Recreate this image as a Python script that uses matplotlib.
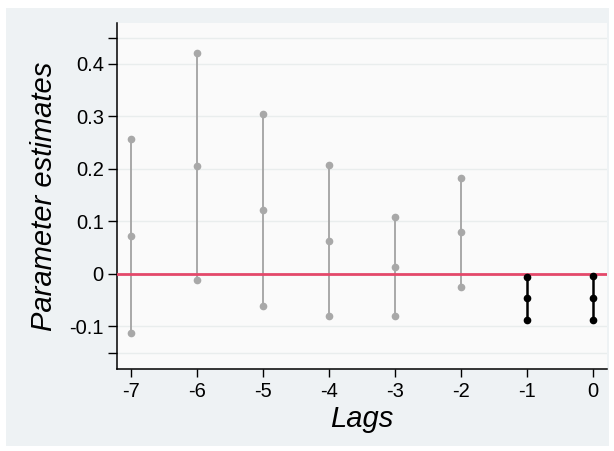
import matplotlib
matplotlib.use("Agg")
import matplotlib.pyplot as plt
from matplotlib.patches import Rectangle

lags = [-7, -6, -5, -4, -3, -2, -1, 0]
estimates = [0.073, 0.205, 0.121, 0.063, 0.013, 0.079, -0.045, -0.045]
upper = [0.258, 0.420, 0.304, 0.207, 0.108, 0.183, -0.005, -0.004]
lower = [-0.113, -0.012, -0.061, -0.081, -0.080, -0.025, -0.087, -0.087]
significant = [False, False, False, False, False, False, True, True]

ytick_vals = [-0.15, -0.1, 0, 0.1, 0.2, 0.3, 0.4, 0.45]
ytick_labels = ["", "-0.1", "0", "0.1", "0.2", "0.3", "0.4", ""]
xtick_labels = ["-7", "-6", "-5", "-4", "-3", "-2", "-1", "0"]

plt.rcParams['font.family'] = ['Liberation Sans', 'DejaVu Sans']

fig = plt.figure(figsize=(6.14, 4.51), dpi=100)
fig.patch.set_facecolor('white')
fig.patches.append(Rectangle((6/614, 5/451), 603/614, 438/451,
                             transform=fig.transFigure, facecolor='#eef2f4',
                             edgecolor='none', zorder=-10))

ax = fig.add_axes([117/614, 1 - 369/451, 490/614, (369 - 23)/451])
ax.set_zorder(1)
ax.set_facecolor('#fafafa')

for x, e, u, l, s in zip(lags, estimates, upper, lower, significant):
    if s:
        ax.plot([x, x], [l, u], color='black', lw=1.8, zorder=4)
        ax.plot([x, x, x], [l, e, u], 'o', color='black', ms=4.5, zorder=5)
    else:
        ax.plot([x, x], [l, u], color='#a8a8a8', lw=1.4, zorder=2)
        ax.plot([x, x, x], [l, e, u], 'o', color='#a8a8a8', ms=4.5, zorder=2.5)

ax.axhline(0, color='#e4486a', lw=2.0, zorder=3)

ax.set_xlim(-7.21, 0.21)
ax.set_ylim(-0.181, 0.478)
ax.set_xticks(lags)
ax.set_xticklabels(xtick_labels)
ax.set_yticks(ytick_vals)
ax.set_yticklabels(ytick_labels)
ax.yaxis.grid(True, color='#e9eded', lw=1.0, zorder=0)
ax.set_axisbelow(True)

for sp in ['top', 'right']:
    ax.spines[sp].set_visible(False)
for sp in ['left', 'bottom']:
    ax.spines[sp].set_linewidth(1.1)
    ax.spines[sp].set_color('black')

ax.tick_params(axis='both', direction='out', length=6.5, width=1.0,
               labelsize=14.5, pad=3, colors='black')
ax.tick_params(axis='x', length=5.5, pad=4)

ax.set_xlabel('Lags', fontsize=21, style='italic', labelpad=3)
ax.set_ylabel('Parameter estimates', fontsize=21, style='italic', labelpad=8)

fig.savefig('out.png', dpi=100, facecolor=fig.get_facecolor())
